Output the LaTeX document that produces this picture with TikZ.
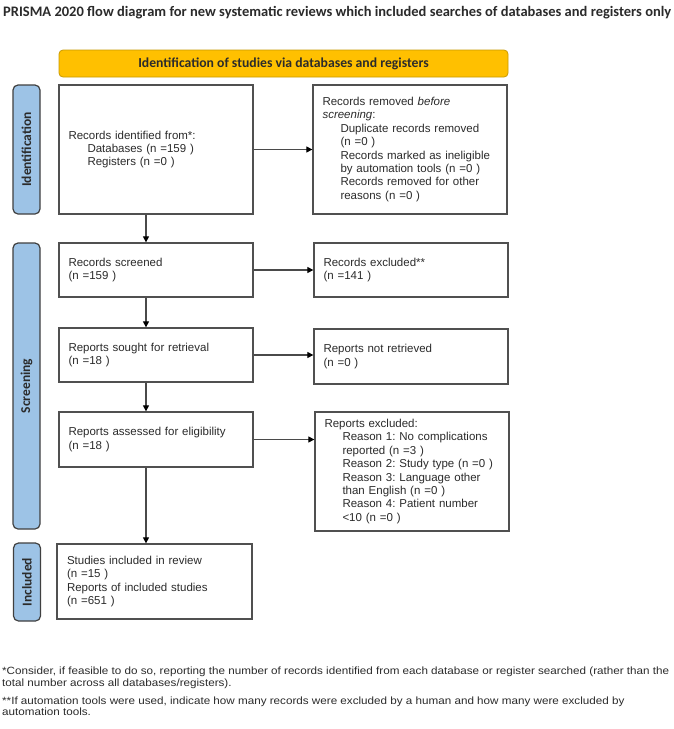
\documentclass[tikz,border=0pt]{standalone}
\usepackage{fontspec}
\setmainfont{Liberation Sans}
\newfontfamily\calib{Carlito}
\usetikzlibrary{arrows.meta,calc}
\definecolor{boxline}{HTML}{505050}
\definecolor{txt}{HTML}{2B2B2B}
\definecolor{arrowgray}{HTML}{4A4A4A}
\definecolor{banfill}{HTML}{FFC000}
\definecolor{banline}{HTML}{C99A00}
\definecolor{sideblue}{HTML}{9DC3E6}
\definecolor{sideline}{HTML}{404040}
\newsavebox\fnlinebox
\newlength\fnlinelen
\newcommand\fnfont{\fontsize{10.5}{11.5}\selectfont}
\frenchspacing
\begin{document}
\frenchspacing
\sbox\fnlinebox{\normalfont\fnfont *Consider, if feasible to do so, reporting the number of records identified from each database or register searched (rather than the}%
\setlength\fnlinelen{\wd\fnlinebox}%
\pgfmathsetmacro\fx{667/\fnlinelen}%
\begin{tikzpicture}[x=1pt,y=-1pt,
  box/.style={draw=boxline, line width=1.3pt, fill=white, minimum width=194pt,
    text width=175pt, inner xsep=9.5pt, inner ysep=0pt, align=left,
    font=\fontsize{11.5}{13.4}\selectfont, text=txt},
  sidelab/.style={draw=sideline, fill=sideblue, rounded corners=5pt, line width=1.2pt,
    minimum height=27pt, inner sep=0pt, rotate=90, text=txt,
    font=\calib\bfseries\fontsize{13.5}{15}\selectfont},
  banner/.style={draw=banline, fill=banfill, rounded corners=4pt, line width=0.8pt,
    minimum width=449pt, minimum height=27pt, inner sep=0pt, text=txt,
    font=\calib\bfseries\fontsize{13.7}{15}\selectfont},
  arr/.style={draw=arrowgray, line width=1.2pt, -{Triangle[length=6pt,width=6pt,black]}}
]
\useasboundingbox (0,0) rectangle (674,729);
\fill[white] (0,0) rectangle (674,729);

\node[anchor=west, inner sep=0pt, text=txt] (title) at (3,13)
  {\resizebox{668pt}{!}{\calib\bfseries PRISMA 2020 flow diagram for new systematic reviews which included searches of databases and registers only}};

\node[banner] (banner) at (283.5,63.5) {Identification of studies via databases and registers};

\node[sidelab, minimum width=129pt] (idlab) at (26.5,149.5) {Identification};
\node[sidelab, minimum width=286pt] (scrlab) at (26.5,386) {Screening};
\node[sidelab, minimum width=78pt] (inclab) at (27,582) {Included};

\node[box, minimum height=129pt] (ident) at (156,149.5)
  {Records identified from*:\\
   \hspace*{19pt}Databases (n =159 )\\
   \hspace*{19pt}Registers (n =0 )};
\node[box, minimum height=129pt] (removed) at (410,149.5)
  {Records removed \textit{before}\\
   \textit{screening}:\\
   \hspace*{18pt}Duplicate records removed\\
   \hspace*{18pt}(n =0 )\\
   \hspace*{18pt}Records marked as ineligible\\
   \hspace*{18pt}by automation tools (n =0 )\\
   \hspace*{18pt}Records removed for other\\
   \hspace*{18pt}reasons (n =0 )};

\node[box, minimum height=54pt] (screened) at (156,270) {Records screened\\(n =159 )};
\node[box, minimum height=54pt] (excluded) at (411,270) {Records excluded**\\(n =141 )};

\node[box, minimum height=54pt] (sought) at (156,355) {Reports sought for retrieval\\(n =18 )};
\node[box, minimum height=55pt] (notretr) at (411,356.5) {Reports not retrieved\\(n =0 )};

\node[box, minimum height=55pt] (assessed) at (156,439.5) {Reports assessed for eligibility\\(n =18 )};
\node[box, minimum height=119pt] (repexcl) at (412,471.5)
  {Reports excluded:\\
   \hspace*{18pt}Reason 1: No complications\\
   \hspace*{18pt}reported (n =3 )\\
   \hspace*{18pt}Reason 2: Study type (n =0 )\\
   \hspace*{18pt}Reason 3: Language other\\
   \hspace*{18pt}than English (n =0 )\\
   \hspace*{18pt}Reason 4: Patient number\\
   \hspace*{18pt}<10 (n =0 )};

\node[box, minimum width=195pt, minimum height=75pt] (studies) at (154.5,581.5)
  {Studies included in review\\(n =15 )\\Reports of included studies\\(n =651 )};

\coordinate (ax) at (146,0);
\draw[arr] (ident.south -| ax) -- (screened.north -| ax);
\draw[arr] (screened.south -| ax) -- (sought.north -| ax);
\draw[arr] (sought.south -| ax) -- (assessed.north -| ax);
\draw[arr] (assessed.south -| ax) -- (studies.north -| ax);
\draw[arr] (ident.east) -- (removed.west);
\draw[arr] (screened.east) -- (excluded.west);
\draw[arr] (sought.east) -- (sought.east -| notretr.west);
\draw[arr] (assessed.east) -- (assessed.east -| repexcl.west);

\node[anchor=north west, inner sep=0pt, align=left, text=txt, font=\fnfont] (fn) at (2,667)
  {\scalebox{\fx}[1]{*Consider, if feasible to do so, reporting the number of records identified from each database or register searched (rather than the}\\
   \scalebox{\fx}[1]{total number across all databases/registers).}\\[6.5pt]
   \scalebox{\fx}[1]{**If automation tools were used, indicate how many records were excluded by a human and how many were excluded by}\\
   \scalebox{\fx}[1]{automation tools.}};
\end{tikzpicture}
\end{document}
